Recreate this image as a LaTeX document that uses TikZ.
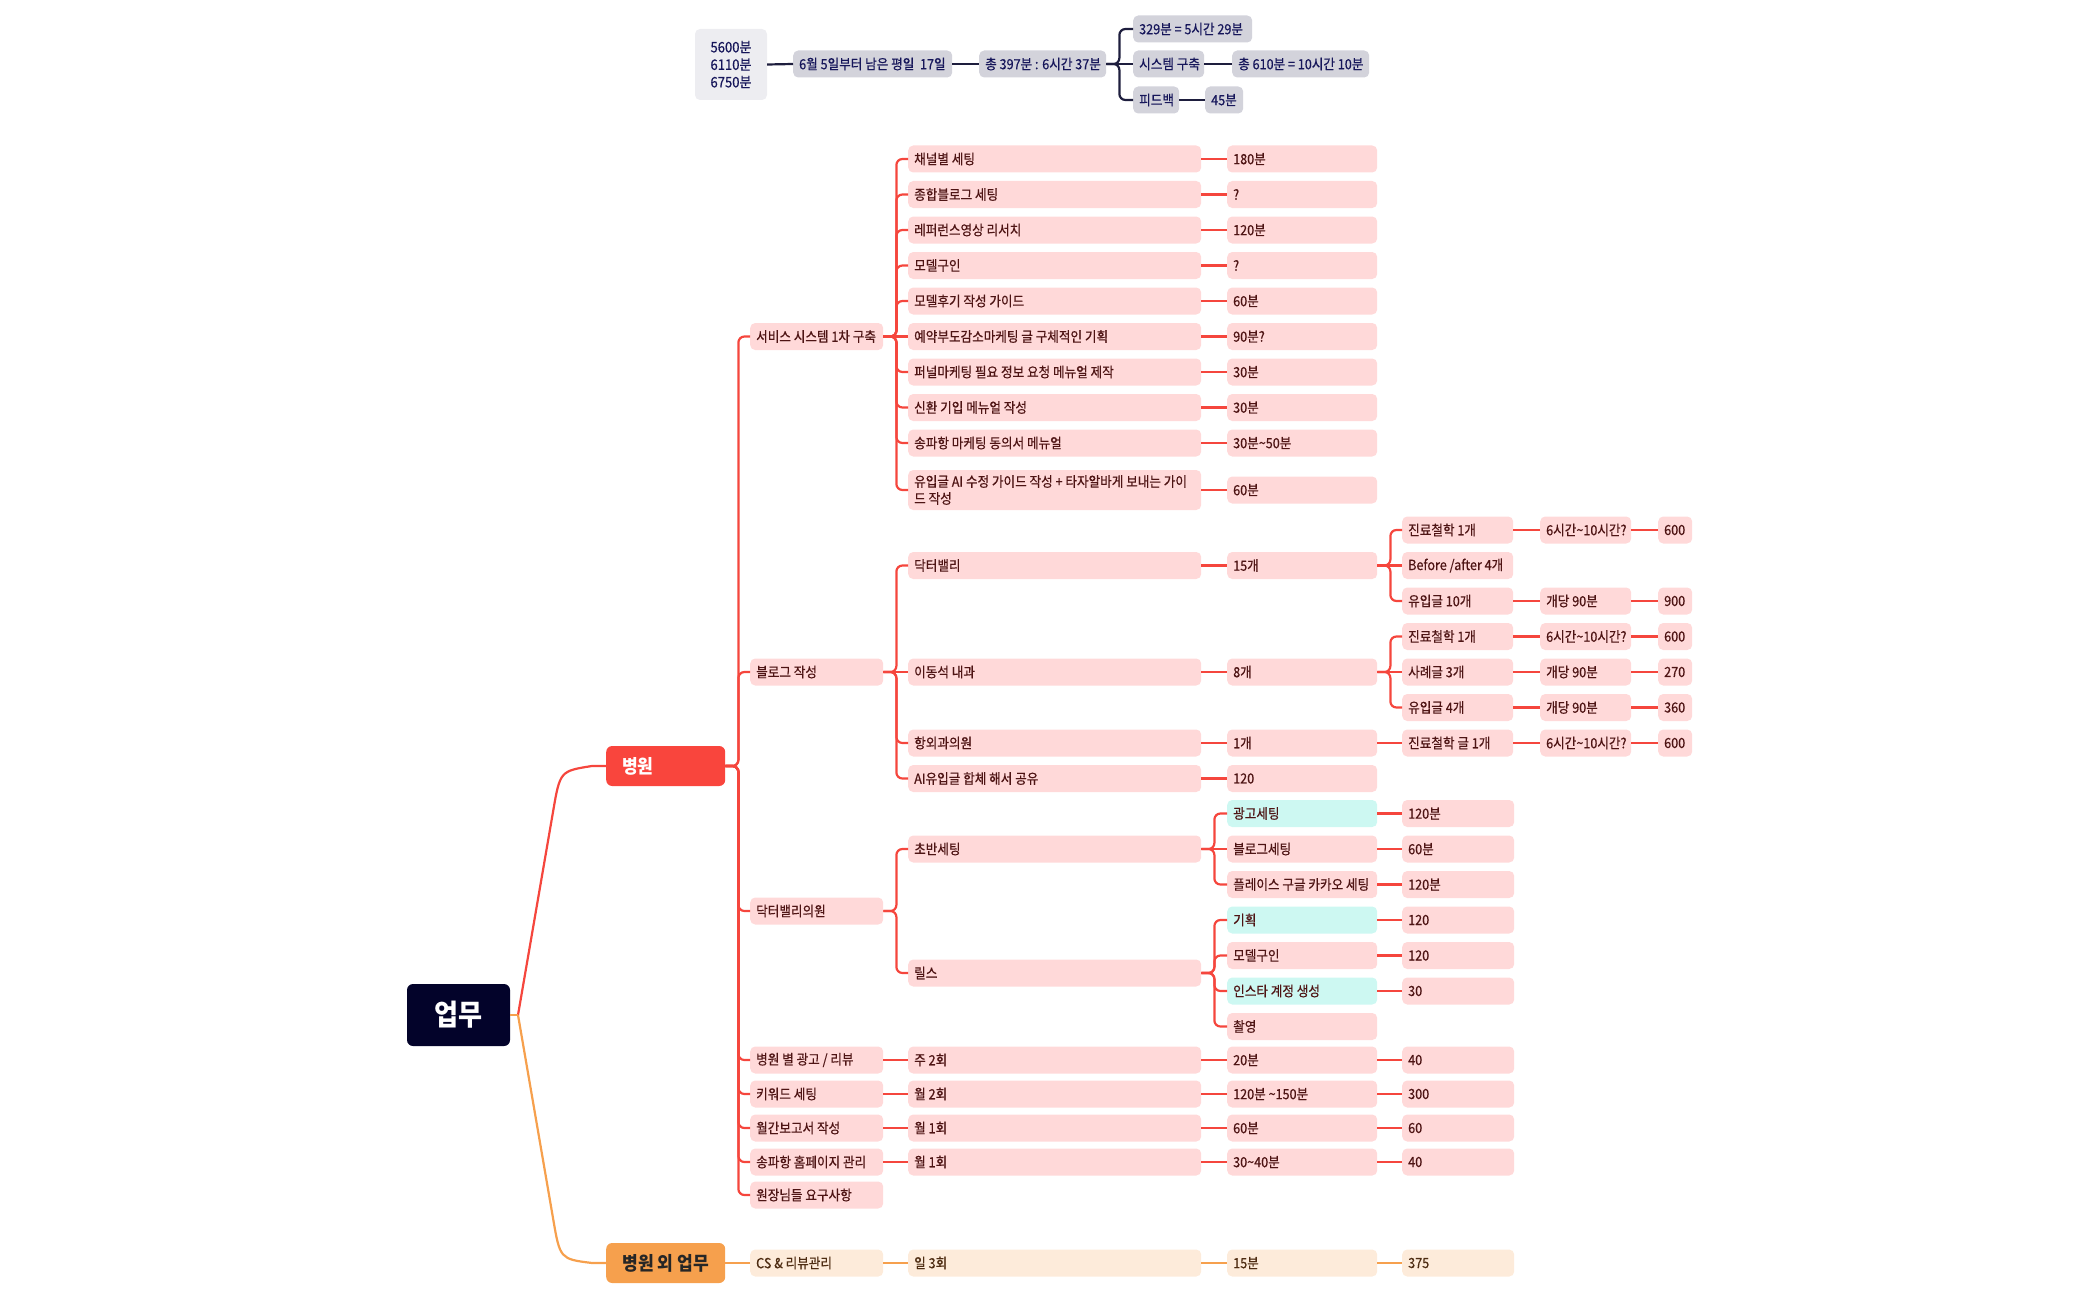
\documentclass[tikz,border=0pt]{standalone}
\usepackage{fontspec}
\setmainfont{Noto Sans CJK KR}[FakeStretch=0.9, UprightFeatures={FakeBold=0.5}]
\definecolor{redl}{HTML}{F5463D}
\definecolor{pk}{HTML}{FFD9D9}
\definecolor{pktx}{HTML}{4E1414}
\definecolor{cyf}{HTML}{CDF8F2}
\definecolor{orl}{HTML}{F6A04D}
\definecolor{orf}{HTML}{FDEBDA}
\definecolor{ortx}{HTML}{4E2C12}
\definecolor{rootf}{HTML}{03032A}
\definecolor{hospf}{HTML}{F9453D}
\definecolor{extf}{HTML}{F6A04D}
\definecolor{grayA}{HTML}{EDEDF1}
\definecolor{grayB}{HTML}{D3D3DB}
\definecolor{navyt}{HTML}{16165A}
\definecolor{navyl}{HTML}{1E1E3E}
\newcommand\bx[6][]{\node[bx,#1] (#2) at (#3,#4) {\makebox[\dimexpr#5pt-12pt\relax][l]{#6}};}
\newcommand\cn[3][rl]{\draw[#1] (#2.east) -- ++(13,0) |- (#3.west);}
\newcommand\sn[3][rl]{\draw[#1] (#2.east) -- (#3.west);}
\begin{document}
\begin{tikzpicture}[x=1pt,y=-1pt,
  bx/.style={rounded corners=5pt, fill=pk, text=pktx, minimum height=27pt, inner xsep=6pt, inner ysep=0pt, anchor=west, font=\fontsize{14}{16}\selectfont},
  cy/.style={fill=cyf},
  ob/.style={fill=orf, text=ortx},
  tb/.style={fill=grayB, text=navyt, font=\fontsize{14}{16}\selectfont},
  rl/.style={draw=redl, line width=2.2pt, rounded corners=6pt},
  ol/.style={draw=orl, line width=2.2pt, rounded corners=6pt},
  nl/.style={draw=navyl, line width=2.2pt, rounded corners=6pt}]
\useasboundingbox (0,0) rectangle (2100,1300);

% ---------- top summary ----------
\node[rounded corners=5pt, fill=grayA, text=navyt, minimum width=72pt, minimum height=71pt, inner sep=0pt, align=center, font=\fontsize{14.5}{17.5}\selectfont] (t0) at (731,64.5) {5600분\\6110분\\6750분};
\bx[tb]{t1}{793}{64}{159}{6월 5일부터 남은 평일\ \ 17일}
\bx[tb]{t2}{979}{64}{127}{총 397분 : 6시간 37분}
\bx[tb]{t3a}{1133}{29}{119}{329분 = 5시간 29분}
\bx[tb]{t3b}{1133}{64}{71}{시스템 구축}
\bx[tb]{t3c}{1133}{100}{46}{피드백}
\bx[tb]{t4b}{1232}{64}{137}{총 610분 = 10시간 10분}
\bx[tb]{t4c}{1205}{100}{38}{45분}
\sn[nl]{t0}{t1}
\sn[nl]{t1}{t2}
\cn[nl]{t2}{t3a}\sn[nl]{t2}{t3b}\cn[nl]{t2}{t3c}
\sn[nl]{t3b}{t4b}
\sn[nl]{t3c}{t4c}

% ---------- root ----------
\node[rounded corners=6pt, fill=rootf, text=white, minimum width=103pt, minimum height=62pt, inner sep=0pt, font=\fontsize{29}{32}\selectfont\bfseries] (root) at (458.5,1015) {업무};
\node[rounded corners=6pt, fill=hospf, text=white, minimum width=119pt, minimum height=40pt, inner sep=0pt, anchor=west, font=\fontsize{19}{22}\selectfont\bfseries] (hosp) at (606,766) {\makebox[87pt][l]{병원}};
\node[rounded corners=6pt, fill=extf, text=black!85, minimum width=119pt, minimum height=40pt, inner sep=0pt, anchor=west, font=\fontsize{19}{22}\selectfont\bfseries] (ext) at (606,1263) {병원 외 업무};
\coordinate (rj) at (518,1015);
\draw[rl, rounded corners=0pt] (rj) -- (553,812) .. controls (560,771) .. (592,766) -- (hosp.west);
\draw[ol, rounded corners=0pt] (rj) -- (553,1218) .. controls (560,1259) .. (592,1263) -- (ext.west);
\draw[ol, rounded corners=0pt] (root.east) -- (rj);

% ---------- level 2 ----------
\bx{svc}{750}{336.5}{133}{서비스 시스템 1차 구축}
\bx{blog}{750}{672}{133}{블로그 작성}
\bx{dvc}{750}{911}{133}{닥터밸리의원}
\bx{ad}{750}{1060}{133}{병원 별 광고 / 리뷰}
\bx{kw}{750}{1094}{133}{키워드 세팅}
\bx{mr}{750}{1128}{133}{월간보고서 작성}
\bx{hp}{750}{1162}{133}{송파항 홈페이지 관리}
\bx{req}{750}{1195}{133}{원장님들 요구사항}
\foreach \c in {svc,blog,dvc,ad,kw,mr,hp,req} {\cn{hosp}{\c}}

% ---------- service system ----------
\bx{s1}{908}{159}{293}{채널별 세팅}
\bx{s2}{908}{194.5}{293}{종합블로그 세팅}
\bx{s3}{908}{230}{293}{레퍼런스영상 리서치}
\bx{s4}{908}{265.5}{293}{모델구인}
\bx{s5}{908}{301}{293}{모델후기 작성 가이드}
\bx{s6}{908}{336.5}{293}{예약부도감소마케팅 글 구체적인 기획}
\bx{s7}{908}{372}{293}{퍼널마케팅 필요 정보 요청 메뉴얼 제작}
\bx{s8}{908}{407.5}{293}{신환 기입 메뉴얼 작성}
\bx{s9}{908}{443}{293}{송파항 마케팅 동의서 메뉴얼}
\node[bx, minimum height=40pt, align=left, font=\fontsize{14}{17}\selectfont] (s10) at (908,490) {\makebox[281pt][l]{유입글 AI 수정 가이드 작성 + 타자알바게 보내는 가이}\\\makebox[281pt][l]{드 작성}};
\bx{v1}{1227}{159}{150}{180분}
\bx{v2}{1227}{194.5}{150}{?}
\bx{v3}{1227}{230}{150}{120분}
\bx{v4}{1227}{265.5}{150}{?}
\bx{v5}{1227}{301}{150}{60분}
\bx{v6}{1227}{336.5}{150}{90분?}
\bx{v7}{1227}{372}{150}{30분}
\bx{v8}{1227}{407.5}{150}{30분}
\bx{v9}{1227}{443}{150}{30분\textasciitilde 50분}
\bx{v10}{1227}{490}{150}{60분}
\foreach \i in {1,2,3,4,5,7,8,9,10} {\cn{svc}{s\i}}
\sn{svc}{s6}
\foreach \i in {1,...,10} {\sn{s\i}{v\i}}

% ---------- blog ----------
\bx{b1}{908}{565.5}{293}{닥터밸리}
\bx{b2}{908}{672}{293}{이동석 내과}
\bx{b3}{908}{743}{293}{항외과의원}
\bx{b4}{908}{778.5}{293}{AI유입글 합체 해서 공유}
\cn{blog}{b1}\sn{blog}{b2}\cn{blog}{b3}\cn{blog}{b4}
\bx{bc1}{1227}{565.5}{150}{15개}
\bx{bc2}{1227}{672}{150}{8개}
\bx{bc3}{1227}{743}{150}{1개}
\bx{bc4}{1227}{778.5}{150}{120}
\sn{b1}{bc1}\sn{b2}{bc2}\sn{b3}{bc3}\sn{b4}{bc4}
% 닥터밸리 detail
\bx{d1}{1402}{530}{111}{진료철학 1개}
\bx{d2}{1402}{565.5}{111}{Before /after 4개}
\bx{d3}{1402}{601}{111}{유입글 10개}
\cn{bc1}{d1}\sn{bc1}{d2}\cn{bc1}{d3}
\bx{d1a}{1540}{530}{91}{6시간\textasciitilde 10시간?}
\bx{d3a}{1540}{601}{91}{개당 90분}
\bx{d1b}{1658}{530}{34}{600}
\bx{d3b}{1658}{601}{34}{900}
\sn{d1}{d1a}\sn{d3}{d3a}\sn{d1a}{d1b}\sn{d3a}{d3b}
% 이동석 detail
\bx{e1}{1402}{636.5}{111}{진료철학 1개}
\bx{e2}{1402}{672}{111}{사례글 3개}
\bx{e3}{1402}{707.5}{111}{유입글 4개}
\cn{bc2}{e1}\sn{bc2}{e2}\cn{bc2}{e3}
\bx{e1a}{1540}{636.5}{91}{6시간\textasciitilde 10시간?}
\bx{e2a}{1540}{672}{91}{개당 90분}
\bx{e3a}{1540}{707.5}{91}{개당 90분}
\bx{e1b}{1658}{636.5}{34}{600}
\bx{e2b}{1658}{672}{34}{270}
\bx{e3b}{1658}{707.5}{34}{360}
\sn{e1}{e1a}\sn{e2}{e2a}\sn{e3}{e3a}\sn{e1a}{e1b}\sn{e2a}{e2b}\sn{e3a}{e3b}
% 항외과의원 detail
\bx{h1}{1402}{743}{111}{진료철학 글 1개}
\bx{h1a}{1540}{743}{91}{6시간\textasciitilde 10시간?}
\bx{h1b}{1658}{743}{34}{600}
\sn{bc3}{h1}\sn{h1}{h1a}\sn{h1a}{h1b}

% ---------- 닥터밸리의원 ----------
\bx{g1}{908}{849}{293}{초반세팅}
\bx{g2}{908}{973}{293}{릴스}
\cn{dvc}{g1}\cn{dvc}{g2}
\bx[cy]{g11}{1227}{813.5}{150}{광고세팅}
\bx{g12}{1227}{849}{150}{블로그세팅}
\bx{g13}{1227}{884.5}{150}{플레이스 구글 카카오 세팅}
\bx[cy]{g21}{1227}{920}{150}{기획}
\bx{g22}{1227}{955.5}{150}{모델구인}
\bx[cy]{g23}{1227}{991}{150}{인스타 계정 생성}
\bx{g24}{1227}{1026.5}{150}{촬영}
\cn{g1}{g11}\sn{g1}{g12}\cn{g1}{g13}
\cn{g2}{g21}\cn{g2}{g22}\cn{g2}{g23}\cn{g2}{g24}
\bx{g11v}{1402}{813.5}{112}{120분}
\bx{g12v}{1402}{849}{112}{60분}
\bx{g13v}{1402}{884.5}{112}{120분}
\bx{g21v}{1402}{920}{112}{120}
\bx{g22v}{1402}{955.5}{112}{120}
\bx{g23v}{1402}{991}{112}{30}
\sn{g11}{g11v}\sn{g12}{g12v}\sn{g13}{g13v}\sn{g21}{g21v}\sn{g22}{g22v}\sn{g23}{g23v}

% ---------- recurring rows ----------
\bx{ad1}{908}{1060}{293}{주 2회}
\bx{ad2}{1227}{1060}{150}{20분}
\bx{ad3}{1402}{1060}{112}{40}
\bx{kw1}{908}{1094}{293}{월 2회}
\bx{kw2}{1227}{1094}{150}{120분 \textasciitilde 150분}
\bx{kw3}{1402}{1094}{112}{300}
\bx{mr1}{908}{1128}{293}{월 1회}
\bx{mr2}{1227}{1128}{150}{60분}
\bx{mr3}{1402}{1128}{112}{60}
\bx{hp1}{908}{1162}{293}{월 1회}
\bx{hp2}{1227}{1162}{150}{30\textasciitilde 40분}
\bx{hp3}{1402}{1162}{112}{40}
\foreach \r in {ad,kw,mr,hp} {\sn{\r}{\r1}\sn{\r1}{\r2}\sn{\r2}{\r3}}

% ---------- 병원 외 업무 ----------
\bx[ob]{cs}{750}{1263}{133}{CS \& 리뷰관리}
\bx[ob]{cs1}{908}{1263}{293}{일 3회}
\bx[ob]{cs2}{1227}{1263}{150}{15분}
\bx[ob]{cs3}{1402}{1263}{112}{375}
\sn[ol]{ext}{cs}\sn[ol]{cs}{cs1}\sn[ol]{cs1}{cs2}\sn[ol]{cs2}{cs3}
\end{tikzpicture}
\end{document}
